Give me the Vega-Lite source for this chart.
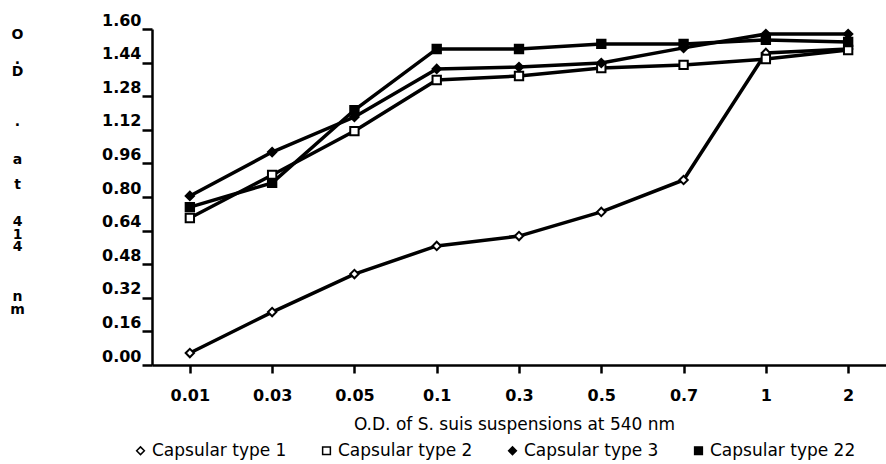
{
  "$schema": "https://vega.github.io/schema/vega-lite/v6.json",
  "width": 734,
  "height": 336,
  "autosize": {"type": "none"},
  "padding": {"left": 152, "top": 29, "right": 0, "bottom": 99},
  "background": "white",
  "config": {
    "view": {"stroke": null},
    "font": "DejaVu Sans",
    "legend": {
      "labelFont": "DejaVu Sans",
      "labelFontSize": 17,
      "labelColor": "black",
      "symbolSize": 60,
      "symbolStrokeColor": "black",
      "symbolStrokeWidth": 1.5,
      "labelOffset": 3,
      "columnPadding": 31,
      "labelLimit": 300
    }
  },
  "data": {
    "values": [
      {"od": "0.01", "series": "Capsular type 1", "value": 0.057},
      {"od": "0.03", "series": "Capsular type 1", "value": 0.252},
      {"od": "0.05", "series": "Capsular type 1", "value": 0.433},
      {"od": "0.1", "series": "Capsular type 1", "value": 0.567},
      {"od": "0.3", "series": "Capsular type 1", "value": 0.614},
      {"od": "0.5", "series": "Capsular type 1", "value": 0.729},
      {"od": "0.7", "series": "Capsular type 1", "value": 0.881},
      {"od": "1", "series": "Capsular type 1", "value": 1.486},
      {"od": "2", "series": "Capsular type 1", "value": 1.505},
      {"od": "0.01", "series": "Capsular type 2", "value": 0.70},
      {"od": "0.03", "series": "Capsular type 2", "value": 0.905},
      {"od": "0.05", "series": "Capsular type 2", "value": 1.114},
      {"od": "0.1", "series": "Capsular type 2", "value": 1.357},
      {"od": "0.3", "series": "Capsular type 2", "value": 1.376},
      {"od": "0.5", "series": "Capsular type 2", "value": 1.414},
      {"od": "0.7", "series": "Capsular type 2", "value": 1.429},
      {"od": "1", "series": "Capsular type 2", "value": 1.457},
      {"od": "2", "series": "Capsular type 2", "value": 1.50},
      {"od": "0.01", "series": "Capsular type 3", "value": 0.805},
      {"od": "0.03", "series": "Capsular type 3", "value": 1.014},
      {"od": "0.05", "series": "Capsular type 3", "value": 1.181},
      {"od": "0.1", "series": "Capsular type 3", "value": 1.41},
      {"od": "0.3", "series": "Capsular type 3", "value": 1.419},
      {"od": "0.5", "series": "Capsular type 3", "value": 1.438},
      {"od": "0.7", "series": "Capsular type 3", "value": 1.51},
      {"od": "1", "series": "Capsular type 3", "value": 1.576},
      {"od": "2", "series": "Capsular type 3", "value": 1.576},
      {"od": "0.01", "series": "Capsular type 22", "value": 0.752},
      {"od": "0.03", "series": "Capsular type 22", "value": 0.867},
      {"od": "0.05", "series": "Capsular type 22", "value": 1.214},
      {"od": "0.1", "series": "Capsular type 22", "value": 1.505},
      {"od": "0.3", "series": "Capsular type 22", "value": 1.505},
      {"od": "0.5", "series": "Capsular type 22", "value": 1.529},
      {"od": "0.7", "series": "Capsular type 22", "value": 1.529},
      {"od": "1", "series": "Capsular type 22", "value": 1.548},
      {"od": "2", "series": "Capsular type 22", "value": 1.538}
    ]
  },
  "encoding": {
    "x": {
      "field": "od",
      "type": "ordinal",
      "sort": ["0.01", "0.03", "0.05", "0.1", "0.3", "0.5", "0.7", "1", "2"],
      "scale": {"type": "point", "padding": 0.46},
      "axis": {
        "title": "O.D. of S. suis suspensions at 540 nm",
        "titleFont": "DejaVu Sans",
        "titleFontSize": 17,
        "titleFontWeight": "normal",
        "titleColor": "black",
        "titleBaseline": "alphabetic",
        "titleAlign": "center",
        "titleX": 362,
        "titleY": 64,
        "labelAngle": 0,
        "labelFont": "DejaVu Sans",
        "labelFontSize": 16,
        "labelFontWeight": "bold",
        "labelColor": "black",
        "labelBaseline": "alphabetic",
        "labelPadding": 27,
        "tickSize": 8,
        "tickWidth": 2.5,
        "tickColor": "black",
        "domainColor": "black",
        "domainWidth": 2.5,
        "grid": false
      }
    },
    "y": {
      "field": "value",
      "type": "quantitative",
      "scale": {"domain": [0, 1.6], "nice": false},
      "axis": {
        "values": [0, 0.16, 0.32, 0.48, 0.64, 0.8, 0.96, 1.12, 1.28, 1.44, 1.6],
        "format": ".2f",
        "labelFont": "DejaVu Sans",
        "labelFontSize": 16,
        "labelFontWeight": "bold",
        "labelColor": "black",
        "labelBaseline": "alphabetic",
        "labelOffset": -4,
        "labelPadding": 1,
        "labelFlush": false,
        "labelOverlap": false,
        "tickSize": 10,
        "tickWidth": 2.5,
        "tickColor": "black",
        "domainColor": "black",
        "domainWidth": 2.5,
        "grid": false,
        "title": ["O", "\u2800", ".", "D", "\u2800", "\u2800", "\u2800", ".", "\u2800", "\u2800", "a", "\u2800", "t", "\u2800", "\u2800", "4", "1", "4", "\u2800", "\u2800", "\u2800", "n", "m"],
        "titleAngle": 0,
        "titleAlign": "center",
        "titleBaseline": "alphabetic",
        "titleX": -135,
        "titleY": 9,
        "titleFont": "DejaVu Sans",
        "titleFontSize": 14,
        "titleFontWeight": "bold",
        "titleColor": "black",
        "titleLineHeight": 12.5
      }
    }
  },
  "layer": [
    {
      "mark": {"type": "line", "color": "black", "strokeWidth": 3.5},
      "encoding": {"detail": {"field": "series"}}
    },
    {
      "mark": {"type": "point", "filled": true, "strokeWidth": 2, "size": 70, "opacity": 1},
      "encoding": {
        "shape": {
          "field": "series",
          "type": "nominal",
          "sort": ["Capsular type 1", "Capsular type 2", "Capsular type 3", "Capsular type 22"],
          "scale": {"domain": ["Capsular type 1", "Capsular type 2", "Capsular type 3", "Capsular type 22"], "range": ["diamond", "square", "diamond", "square"]},
          "legend": {"title": null, "orient": "none", "legendX": -20, "legendY": 413, "direction": "horizontal", "columns": 4, "symbolStrokeColor": "black", "symbolStrokeWidth": 1.5}
        },
        "fill": {
          "field": "series",
          "type": "nominal",
          "sort": ["Capsular type 1", "Capsular type 2", "Capsular type 3", "Capsular type 22"],
          "scale": {"domain": ["Capsular type 1", "Capsular type 2", "Capsular type 3", "Capsular type 22"], "range": ["white", "white", "black", "black"]},
          "legend": {"title": null, "orient": "none", "legendX": -20, "legendY": 413, "direction": "horizontal", "columns": 4, "symbolStrokeColor": "black", "symbolStrokeWidth": 1.5}
        },
        "stroke": {
          "field": "series",
          "type": "nominal",
          "sort": ["Capsular type 1", "Capsular type 2", "Capsular type 3", "Capsular type 22"],
          "scale": {"domain": ["Capsular type 1", "Capsular type 2", "Capsular type 3", "Capsular type 22"], "range": ["black", "black", "black", "black"]},
          "legend": {"title": null, "orient": "none", "legendX": -20, "legendY": 413, "direction": "horizontal", "columns": 4, "symbolStrokeColor": "black", "symbolStrokeWidth": 1.5}
        }
      }
    }
  ]
}
